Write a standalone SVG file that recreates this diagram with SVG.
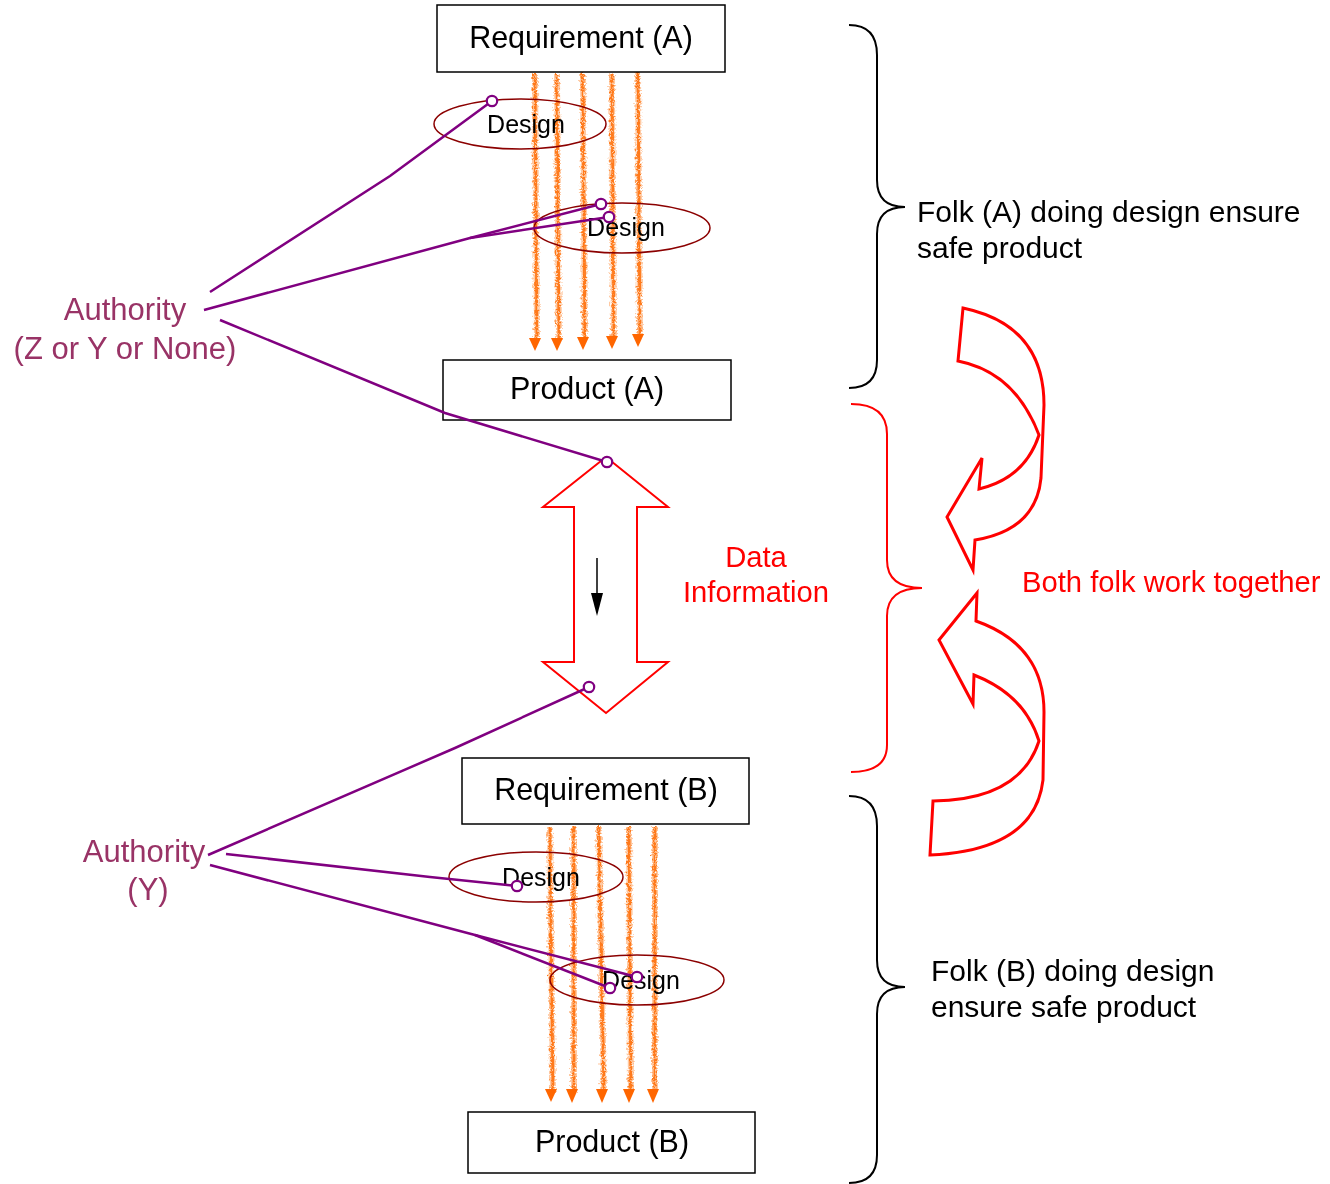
<svg xmlns="http://www.w3.org/2000/svg" width="1330" height="1184" viewBox="0 0 1330 1184">
<style>
.box{fill:#fff;stroke:#000;stroke-width:1.5}
.lbl{font-family:"Liberation Sans",Arial,sans-serif;font-size:30.5px;fill:#000}
.folk{font-family:"Liberation Sans",Arial,sans-serif;font-size:30px;fill:#000}
.dlbl{font-family:"Liberation Sans",Arial,sans-serif;font-size:25px;fill:#000;text-anchor:middle}
.ell{fill:none;stroke:#8B0000;stroke-width:1.5}
.auth{font-family:"Liberation Sans",Arial,sans-serif;font-size:31px;fill:#993366;text-anchor:middle}
.red{font-family:"Liberation Sans",Arial,sans-serif;font-size:29.2px;fill:#FF0000}
.pl{fill:none;stroke:#800080;stroke-width:2.5}
.pc{fill:#fff;stroke:#800080;stroke-width:2.2}
.halo{fill:none;stroke:#FFB27A;stroke-width:6;opacity:.7}
.flow{fill:none;stroke:#FF7A1A;stroke-width:2.8}
.ah{fill:#FF6600}
.brace{fill:none;stroke:#000;stroke-width:2}
.rbrace{fill:none;stroke:#FF0000;stroke-width:2}
.rarrow{fill:#fff;stroke:#FF0000;stroke-width:3;stroke-linejoin:miter}
</style>
<defs>
<filter id="wiggle" filterUnits="userSpaceOnUse" x="0" y="0" width="1330" height="1184">
<feTurbulence type="turbulence" baseFrequency="0.35" numOctaves="1" seed="3" result="t"/>
<feDisplacementMap in="SourceGraphic" in2="t" scale="5" xChannelSelector="R" yChannelSelector="G"/>
</filter>
</defs>
<rect width="1330" height="1184" fill="#fff"/>

<g id="flows">
<g filter="url(#wiggle)">
<path class="halo" d="M533,72 L535,338 M555,72 L557,338 M581,72 L583,338 M610,72 L612,336 M636,70 L638,334"/>
<path class="flow" d="M533,72 L535,338 M555,72 L557,338 M581,72 L583,338 M610,72 L612,336 M636,70 L638,334"/>
<path class="halo" d="M548,825 L551,1090 M572,825 L572,1090 M597,825 L602,1090 M627,825 L629,1090 M653,825 L653,1090"/>
<path class="flow" d="M548,825 L551,1090 M572,825 L572,1090 M597,825 L602,1090 M627,825 L629,1090 M653,825 L653,1090"/>
</g>
<polygon class="ah" points="529,338 541,338 535,351"/>
<polygon class="ah" points="551,338 563,338 557,351"/>
<polygon class="ah" points="577,337 589,337 583,350"/>
<polygon class="ah" points="606,336 618,336 612,349"/>
<polygon class="ah" points="632,334 644,334 638,347"/>
<polygon class="ah" points="545,1089 557,1089 551,1102"/>
<polygon class="ah" points="566,1089 578,1089 572,1103"/>
<polygon class="ah" points="596,1089 608,1089 602,1103"/>
<polygon class="ah" points="623,1089 635,1089 629,1103"/>
<polygon class="ah" points="647,1089 659,1089 653,1103"/>
</g>

<g id="reqA"><rect class="box" x="437" y="5" width="288" height="67"/><text class="lbl" x="581" y="48" text-anchor="middle">Requirement (A)</text></g>
<g id="prodA"><rect class="box" x="443" y="360" width="288" height="60"/><text class="lbl" x="587" y="399" text-anchor="middle">Product (A)</text></g>
<g id="reqB"><rect class="box" x="462" y="758" width="287" height="66"/><text class="lbl" x="606" y="800" text-anchor="middle">Requirement (B)</text></g>
<g id="prodB"><rect class="box" x="468" y="1112" width="287" height="61"/><text class="lbl" x="612" y="1152" text-anchor="middle">Product (B)</text></g>

<g id="designA1"><ellipse class="ell" cx="520" cy="124" rx="86" ry="25"/><text class="dlbl" x="526" y="133">Design</text></g>
<g id="designA2"><ellipse class="ell" cx="622" cy="228" rx="88" ry="25"/><text class="dlbl" x="626" y="236">Design</text></g>
<g id="designB1"><ellipse class="ell" cx="536" cy="877" rx="87" ry="25"/><text class="dlbl" x="541" y="886">Design</text></g>
<g id="designB2"><ellipse class="ell" cx="637" cy="980" rx="87" ry="25"/><text class="dlbl" x="641" y="989">Design</text></g>

<g id="authA"><text class="auth" x="125" y="320">Authority</text><text class="auth" x="125" y="359">(Z or Y or None)</text></g>
<g id="authB"><text class="auth" x="144" y="862">Authority</text><text class="auth" x="148" y="900">(Y)</text></g>

<g id="dataArrow">
<polygon class="rarrow" style="stroke-width:2" points="606,457 668,507 637,507 637,662 668,662 606,713 543,662 574,662 574,507 543,507"/>
<line x1="597" y1="558" x2="597" y2="596" stroke="#000" stroke-width="1.5"/>
<polygon points="591,593 603,593 597,616" fill="#000"/>
</g>
<g id="dataLabel"><text class="red" x="756" y="567" text-anchor="middle">Data</text><text class="red" x="756" y="602" text-anchor="middle">Information</text></g>

<g id="connectors">
<polyline class="pl" points="210,292 390,176 492,101"/>
<polyline class="pl" points="204,310 470,238 601,204"/>
<polyline class="pl" points="470,238 609,217"/>
<polyline class="pl" points="220,320 445,413 607,462"/>
<polyline class="pl" points="208,855 455,748 589,687"/>
<polyline class="pl" points="226,854 430,877 517,886"/>
<polyline class="pl" points="210,865 475,935 637,977"/>
<polyline class="pl" points="475,935 610,988"/>
<circle class="pc" cx="492" cy="101" r="5.2"/>
<circle class="pc" cx="601" cy="204" r="5.2"/>
<circle class="pc" cx="609" cy="217" r="5.2"/>
<circle class="pc" cx="607" cy="462" r="5.2"/>
<circle class="pc" cx="589" cy="687" r="5.2"/>
<circle class="pc" cx="517" cy="886" r="5.2"/>
<circle class="pc" cx="637" cy="977" r="5.2"/>
<circle class="pc" cx="610" cy="988" r="5.2"/>
</g>

<g id="braceA"><path class="brace" d="M849,25 Q877,25 877,55 L877,180 Q877,207 905,207 Q877,207 877,234 L877,360 Q877,388 849,388"/></g>
<g id="braceMid"><path class="rbrace" d="M851,404 Q887,404 887,434 L887,560 Q887,588 922,588 Q887,588 887,616 L887,745 Q887,772 851,772"/></g>
<g id="braceB"><path class="brace" d="M849,796 Q877,796 877,826 L877,960 Q877,987 905,987 Q877,987 877,1014 L877,1155 Q877,1183 849,1183"/></g>

<g id="folkA"><text class="folk" x="917" y="222">Folk (A) doing design ensure</text><text class="folk" x="917" y="258">safe product</text></g>
<g id="folkB"><text class="folk" x="931" y="981">Folk (B) doing design</text><text class="folk" x="931" y="1017">ensure safe product</text></g>
<g id="together"><text class="red" x="1022" y="592">Both folk work together</text></g>

<g id="curveTop"><path class="rarrow" d="M963,308 Q1044,325 1044,405 L1041,478 Q1036,530 975,540 L973,570 L947,517 L982,458 L979,489 Q1025,478 1039,435 Q1015,372 958,361 Z"/></g>
<g id="curveBottom"><path class="rarrow" d="M939,640 L977,593 L976,621 Q1044,645 1044,712 L1043,780 Q1035,850 930,855 L933,801 Q1020,800 1039,741 Q1025,695 974,675 L973,704 Z"/></g>
</svg>
